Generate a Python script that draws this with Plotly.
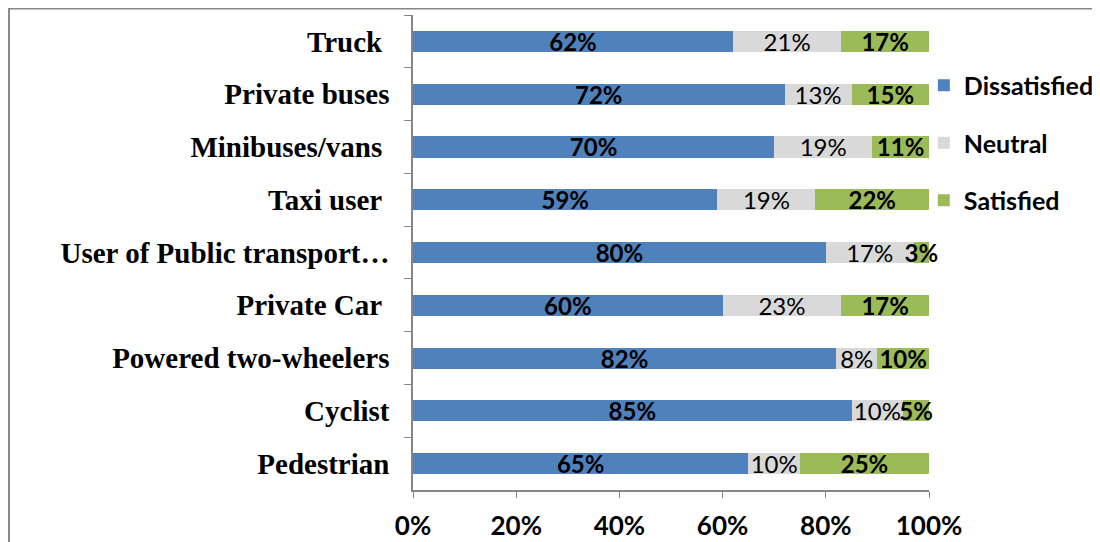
import plotly.graph_objects as go

categories = ["Truck\u00a0", "Private buses", "Minibuses/vans\u00a0", "Taxi user\u00a0",
              "User of Public transport…", "Private Car\u00a0",
              "Powered two-wheelers", "Cyclist", "Pedestrian"]
dissatisfied = [62, 72, 70, 59, 80, 60, 82, 85, 65]
neutral = [21, 13, 19, 19, 17, 23, 8, 10, 10]
satisfied = [17, 15, 11, 22, 3, 17, 10, 5, 25]

series = [
    ("Dissatisfied", dissatisfied, "#4F81BD", True),
    ("Neutral", neutral, "#D9D9D9", False),
    ("Satisfied", satisfied, "#9BBB59", True),
]

fig = go.Figure()
for name, vals, color, bold in series:
    labels = [f"<b>{v}%</b>" if bold else f"{v}%" for v in vals]
    fig.add_trace(go.Bar(
        y=categories, x=vals, name=name, orientation="h",
        marker=dict(color=color, line=dict(width=0)),
        text=labels, texttemplate="%{text}", textposition="inside",
        insidetextanchor="middle", textangle=0,
        textfont=dict(family="Lato", size=24, color="black"),
        cliponaxis=False, legendgroup=name,
    ))

# the page body has an 8px margin, so margins are shifted by 8px
fig.update_layout(
    barmode="stack", bargap=0.6,
    width=1100, height=542,
    margin=dict(l=405, r=179, t=7, b=60, autoexpand=False),
    plot_bgcolor="white", paper_bgcolor="white",
    uniformtext=dict(minsize=24, mode="show"),
    legend=dict(x=0.99, y=0.9, xanchor="left", yanchor="top",
                bgcolor="rgba(0,0,0,0)",
                font=dict(family="Lato", size=25, color="black", weight="bold"),
                tracegroupgap=22, traceorder="grouped"),
    showlegend=True,
)
fig.update_yaxes(
    autorange="reversed", showline=True, linecolor="#868686", linewidth=1.5,
    ticks="outside", tickson="boundaries", ticklen=7, tickcolor="#868686",
    ticklabelstandoff=16,
    tickfont=dict(family="Liberation Serif", size=29, color="black", weight="bold"),
)
fig.update_xaxes(
    range=[0, 100], dtick=20, ticksuffix="%", showgrid=False, zeroline=False,
    showline=True, linecolor="#868686", linewidth=1.5,
    ticks="outside", ticklen=6, tickcolor="#868686", ticklabelstandoff=6,
    tickfont=dict(family="Lato", size=26, color="black", weight="bold"),
)
# outer chart frame
fig.add_shape(type="rect", xref="paper", yref="paper",
              x0=-0.783, x1=2, y0=-1, y1=1.0135,
              line=dict(color="#888888", width=2), layer="below")

fig.write_html("out.html")
